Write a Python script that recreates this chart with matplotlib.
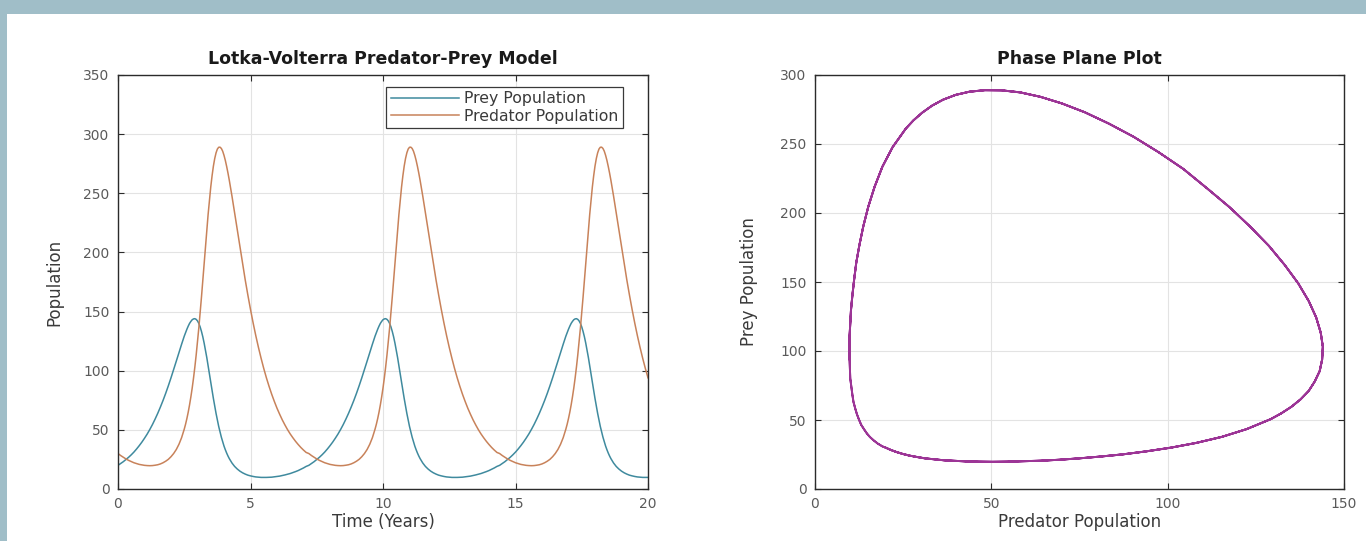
import matplotlib
matplotlib.use("Agg")
import matplotlib.pyplot as plt
from matplotlib.patches import Rectangle

plt.rcParams['font.family'] = ['DejaVu Sans']

# ---------------- data ----------------
time_years = [
    0.0, 0.1, 0.2, 0.3, 0.4, 0.5, 0.6, 0.7, 0.8, 0.9, 1.0, 1.1, 1.2, 1.3, 1.4, 1.5, 1.6, 1.7, 1.8, 1.9, 2.0, 2.1, 2.2, 2.3, 2.4, 2.5,
    2.55, 2.6, 2.65, 2.7, 2.75, 2.8, 2.85, 2.9, 2.95, 3.0, 3.05, 3.1, 3.15, 3.2, 3.25, 3.3, 3.35, 3.4, 3.45, 3.5, 3.55, 3.6, 3.65, 3.7,
    3.75, 3.8, 3.85, 3.9, 3.95, 4.0, 4.05, 4.1, 4.15, 4.2,
    4.3, 4.4, 4.5, 4.6, 4.7, 4.8, 4.9, 5.0, 5.1, 5.2, 5.3, 5.4, 5.5, 5.6, 5.7, 5.8, 5.9, 6.0, 6.1, 6.2, 6.3, 6.4, 6.5, 6.6, 6.7, 6.8,
    6.9, 7.0, 7.1,
    7.2, 7.3, 7.4, 7.5, 7.6, 7.7, 7.8, 7.9, 8.0, 8.1, 8.2, 8.3, 8.4, 8.5, 8.6, 8.7, 8.8, 8.9, 9.0, 9.1, 9.2, 9.3, 9.4, 9.5, 9.6, 9.7,
    9.75, 9.8, 9.85, 9.9, 9.95, 10.0, 10.05, 10.1, 10.15, 10.2, 10.25, 10.3, 10.35, 10.4, 10.45, 10.5, 10.55, 10.6, 10.65, 10.7,
    10.75, 10.8, 10.85, 10.9, 10.95, 11.0, 11.05, 11.1, 11.15, 11.2, 11.25, 11.3, 11.35, 11.4,
    11.5, 11.6, 11.7, 11.8, 11.9, 12.0, 12.1, 12.2, 12.3, 12.4, 12.5, 12.6, 12.7, 12.8, 12.9, 13.0, 13.1, 13.2, 13.3, 13.4, 13.5,
    13.6, 13.7, 13.8, 13.9, 14.0, 14.1, 14.2, 14.3,
    14.4, 14.5, 14.6, 14.7, 14.8, 14.9, 15.0, 15.1, 15.2, 15.3, 15.4, 15.5, 15.6, 15.7, 15.8, 15.9, 16.0, 16.1, 16.2, 16.3, 16.4,
    16.5, 16.6, 16.7, 16.8, 16.9,
    16.95, 17.0, 17.05, 17.1, 17.15, 17.2, 17.25, 17.3, 17.35, 17.4, 17.45, 17.5, 17.55, 17.6, 17.65, 17.7, 17.75, 17.8, 17.85,
    17.9, 17.95, 18.0, 18.05, 18.1, 18.15, 18.2, 18.25, 18.3, 18.35, 18.4, 18.45, 18.5, 18.55, 18.6,
    18.7, 18.8, 18.9, 19.0, 19.1, 19.2, 19.3, 19.4, 19.5, 19.6, 19.7, 19.8, 19.9, 20.0,
]

prey_population = [
    # cycle 1
    20.0, 21.5, 23.1, 24.9, 26.8, 28.9, 31.2, 33.8, 36.6, 39.6, 42.9, 46.4, 50.3, 54.5, 59.1, 64.0, 69.3, 74.9, 80.9, 87.3,
    94.0, 101.0, 108.1, 115.4, 122.4, 129.2,
    132.2, 135.1, 137.7, 140.0, 141.7, 143.1, 143.8, 144.0, 143.4, 142.1, 140.0, 137.0, 133.2, 128.7, 123.4, 117.5, 111.2,
    104.4, 97.4, 90.3, 83.3, 76.5, 70.0, 63.9, 58.2, 52.9, 48.2, 43.8, 39.9, 36.3, 33.2, 30.4, 27.9, 25.7,
    22.0, 19.1, 16.9, 15.1, 13.7, 12.6, 11.7, 11.1, 10.6, 10.2, 10.0, 9.8, 9.8, 9.8, 9.9, 10.0, 10.3, 10.6, 10.9, 11.4,
    11.9, 12.5, 13.1, 13.9, 14.7, 15.6, 16.7, 17.8, 19.1,
    # cycle 2
    20.0, 21.5, 23.1, 24.9, 26.8, 28.9, 31.2, 33.8, 36.6, 39.6, 42.9, 46.4, 50.3, 54.5, 59.1, 64.0, 69.3, 74.9, 80.9, 87.3,
    94.0, 101.0, 108.1, 115.4, 122.4, 129.2,
    132.2, 135.1, 137.7, 140.0, 141.7, 143.1, 143.8, 144.0, 143.4, 142.1, 140.0, 137.0, 133.2, 128.7, 123.4, 117.5, 111.2,
    104.4, 97.4, 90.3, 83.3, 76.5, 70.0, 63.9, 58.2, 52.9, 48.2, 43.8, 39.9, 36.3, 33.2, 30.4, 27.9, 25.7,
    22.0, 19.1, 16.9, 15.1, 13.7, 12.6, 11.7, 11.1, 10.6, 10.2, 10.0, 9.8, 9.8, 9.8, 9.9, 10.0, 10.3, 10.6, 10.9, 11.4,
    11.9, 12.5, 13.1, 13.9, 14.7, 15.6, 16.7, 17.8, 19.1,
    # cycle 3
    20.0, 21.5, 23.1, 24.9, 26.8, 28.9, 31.2, 33.8, 36.6, 39.6, 42.9, 46.4, 50.3, 54.5, 59.1, 64.0, 69.3, 74.9, 80.9, 87.3,
    94.0, 101.0, 108.1, 115.4, 122.4, 129.2,
    132.2, 135.1, 137.7, 140.0, 141.7, 143.1, 143.8, 144.0, 143.4, 142.1, 140.0, 137.0, 133.2, 128.7, 123.4, 117.5, 111.2,
    104.4, 97.4, 90.3, 83.3, 76.5, 70.0, 63.9, 58.2, 52.9, 48.2, 43.8, 39.9, 36.3, 33.2, 30.4, 27.9, 25.7,
    22.0, 19.1, 16.9, 15.1, 13.7, 12.6, 11.7, 11.1, 10.6, 10.2, 10.0, 9.8, 9.8, 9.8,
]

predator_population = [
    # cycle 1
    30.0, 28.3, 26.8, 25.4, 24.2, 23.2, 22.2, 21.5, 20.8, 20.4, 20.0, 19.8, 19.7, 19.8, 20.1, 20.5, 21.2, 22.2, 23.5, 25.1,
    27.3, 30.0, 33.4, 37.8, 43.4, 50.6,
    54.8, 59.6, 65.0, 71.1, 77.9, 85.4, 93.8, 103.1, 113.3, 124.4, 136.2, 149.1, 162.3, 176.2, 190.1, 204.3, 217.8, 232.0,
    244.1, 255.3, 264.8, 273.0, 279.4, 284.2, 287.4, 288.9, 289.0, 287.9, 285.6, 282.1, 277.8, 272.7, 267.1, 261.0,
    247.7, 233.5, 219.0, 204.5, 190.4, 176.9, 164.0, 151.8, 140.3, 129.6, 119.7, 110.5, 101.9, 94.0, 86.8, 80.1, 74.0,
    68.3, 63.2, 58.4, 54.1, 50.1, 46.5, 43.3, 40.3, 37.6, 35.1, 32.9, 30.9,
    # cycle 2
    30.0, 28.3, 26.8, 25.4, 24.2, 23.2, 22.2, 21.5, 20.8, 20.4, 20.0, 19.8, 19.7, 19.8, 20.1, 20.5, 21.2, 22.2, 23.5, 25.1,
    27.3, 30.0, 33.4, 37.8, 43.4, 50.6,
    54.8, 59.6, 65.0, 71.1, 77.9, 85.4, 93.8, 103.1, 113.3, 124.4, 136.2, 149.1, 162.3, 176.2, 190.1, 204.3, 217.8, 232.0,
    244.1, 255.3, 264.8, 273.0, 279.4, 284.2, 287.4, 288.9, 289.0, 287.9, 285.6, 282.1, 277.8, 272.7, 267.1, 261.0,
    247.7, 233.5, 219.0, 204.5, 190.4, 176.9, 164.0, 151.8, 140.3, 129.6, 119.7, 110.5, 101.9, 94.0, 86.8, 80.1, 74.0,
    68.3, 63.2, 58.4, 54.1, 50.1, 46.5, 43.3, 40.3, 37.6, 35.1, 32.9, 30.9,
    # cycle 3
    30.0, 28.3, 26.8, 25.4, 24.2, 23.2, 22.2, 21.5, 20.8, 20.4, 20.0, 19.8, 19.7, 19.8, 20.1, 20.5, 21.2, 22.2, 23.5, 25.1,
    27.3, 30.0, 33.4, 37.8, 43.4, 50.6,
    54.8, 59.6, 65.0, 71.1, 77.9, 85.4, 93.8, 103.1, 113.3, 124.4, 136.2, 149.1, 162.3, 176.2, 190.1, 204.3, 217.8, 232.0,
    244.1, 255.3, 264.8, 273.0, 279.4, 284.2, 287.4, 288.9, 289.0, 287.9, 285.6, 282.1, 277.8, 272.7, 267.1, 261.0,
    247.7, 233.5, 219.0, 204.5, 190.4, 176.9, 164.0, 151.8, 140.3, 129.6, 119.7, 110.5, 101.9, 94.0,
]

left_xticks = [0, 5, 10, 15, 20]
left_yticks = [0, 50, 100, 150, 200, 250, 300, 350]
right_xticks = [0, 50, 100, 150]
right_yticks = [0, 50, 100, 150, 200, 250, 300]

# ---------------- styling ----------------
W, H = 1366, 541
fig = plt.figure(figsize=(W / 100, H / 100), dpi=100, facecolor='white')

frame_color = '#a0bec8'
fig.patches.append(Rectangle((0, 1 - 14 / H), 1, 14 / H, transform=fig.transFigure,
                             facecolor=frame_color, edgecolor='none', zorder=0))
fig.patches.append(Rectangle((0, 0), 7 / W, 1, transform=fig.transFigure,
                             facecolor=frame_color, edgecolor='none', zorder=0))

PREY_C = '#3f8a9e'
PRED_C = '#c8825a'
PHASE_C = '#9c3596'
SPINE_C = '#2b2b2b'
TICK_C = '#5a5a5a'
LABEL_C = '#3a3a3a'
GRID_C = '#e3e3e3'


def axes_rect(x0, x1, y_top, y_bot):
    return [x0 / W, 1 - y_bot / H, (x1 - x0) / W, (y_bot - y_top) / H]


def style(ax):
    ax.set_facecolor('white')
    for s in ax.spines.values():
        s.set_color(SPINE_C)
        s.set_linewidth(1.0)
    ax.tick_params(direction='in', length=4, width=0.8, colors=SPINE_C,
                   labelcolor=TICK_C, labelsize=10, top=True, right=True, pad=6)
    ax.grid(True, color=GRID_C, linewidth=0.8)
    ax.set_axisbelow(True)


ax1 = fig.add_axes(axes_rect(118, 648, 75, 489))
ax2 = fig.add_axes(axes_rect(815, 1344, 75, 489))

# left: time series
ax1.plot(time_years, prey_population, color=PREY_C, lw=1.1, label='Prey Population')
ax1.plot(time_years, predator_population, color=PRED_C, lw=1.1, label='Predator Population')
ax1.set_xlim(0, 20)
ax1.set_ylim(0, 350)
ax1.set_xticks(left_xticks)
ax1.set_yticks(left_yticks)
style(ax1)
ax1.set_title('Lotka-Volterra Predator-Prey Model', fontsize=12.5, fontweight='bold',
              color='#1a1a1a', pad=8)
ax1.set_xlabel('Time (Years)', fontsize=12, color=LABEL_C, labelpad=1)
ax1.set_ylabel('Population', fontsize=12, color=LABEL_C, labelpad=14)
leg = ax1.legend(loc='upper right', bbox_to_anchor=(0.953, 0.972), fontsize=11.3,
                 frameon=True, fancybox=False, framealpha=1, edgecolor='#3a3a3a',
                 handlelength=4.3, handletextpad=0.35, borderpad=0.3, labelspacing=0.15,
                 borderaxespad=0)
leg.get_frame().set_linewidth(0.9)
for t in leg.get_texts():
    t.set_color(LABEL_C)

# right: phase plane
ax2.plot(prey_population, predator_population, color=PHASE_C, lw=1.4)
ax2.set_xlim(0, 150)
ax2.set_ylim(0, 300)
ax2.set_xticks(right_xticks)
ax2.set_yticks(right_yticks)
style(ax2)
ax2.set_title('Phase Plane Plot', fontsize=12.5, fontweight='bold', color='#1a1a1a', pad=8)
ax2.set_xlabel('Predator Population', fontsize=12, color=LABEL_C, labelpad=1)
ax2.set_ylabel('Prey Population', fontsize=12, color=LABEL_C, labelpad=16)

fig.savefig('out.png', dpi=100, facecolor='white')
